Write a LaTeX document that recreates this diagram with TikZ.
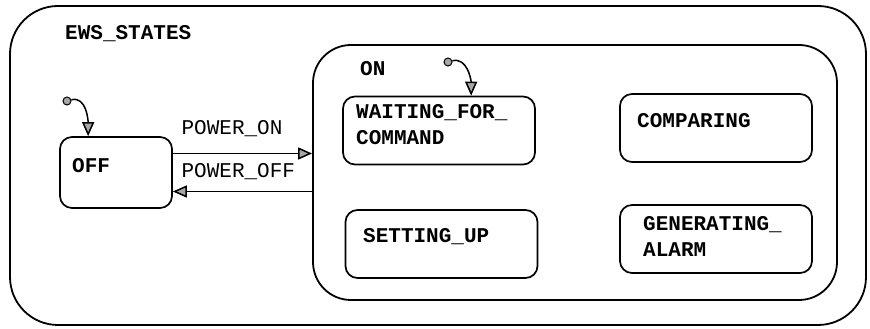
\documentclass[tikz,border=0pt]{standalone}
\usepackage{fontspec}
\newfontfamily\chartmono{Liberation Mono}
\usetikzlibrary{arrows.meta}
\tikzset{
  region/.style={draw, line width=1.8pt},
  state/.style={draw, line width=1.7pt, rounded corners=12pt, minimum width=192pt, minimum height=68pt},
  statename/.style={anchor=base west, inner sep=0pt, align=left, font=\chartmono\bfseries\fontsize{21}{26}\selectfont},
  event/.style={anchor=base west, inner sep=0pt, font=\chartmono\fontsize{21}{26}\selectfont},
  trans/.style={line width=1.5pt, -{Triangle[length=14pt,width=12pt,fill=gray!70]}},
  startdot/.style={circle, draw, line width=1pt, fill=gray!70, inner sep=0pt, minimum size=8pt},
}

\begin{document}
\begin{tikzpicture}[x=1pt,y=1pt]
\useasboundingbox (0,0) rectangle (870,329);
% outer state and the ON state
\node[region, rounded corners=48pt, minimum width=856pt, minimum height=319pt] (ews) at (438,163.5) {};
\node[statename] (ews-name) at (65,289) {EWS\_STATES};
\node[region, rounded corners=38pt, minimum width=524pt, minimum height=255pt] (on) at (575,156.5) {};
\node[statename] (on-name) at (360,253) {ON};
% states
\node[state, minimum width=112pt, minimum height=71pt] (off) at (116,156.5) {};
\node[statename] (off-name) at (72,156) {OFF};
\node[state] (wait) at (439,198.5) {};
\node[statename] (wait-name) at (356,184) {WAITING\_FOR\_\\COMMAND};
\node[state] (comp) at (716,201) {};
\node[statename] (comp-name) at (637,201) {COMPARING};
\node[state] (setup) at (441.5,85) {};
\node[statename] (setup-name) at (363,86) {SETTING\_UP};
\node[state] (alarm) at (716,90) {};
\node[statename] (alarm-name) at (643,72) {GENERATING\_\\ALARM};
% initial states
\node[startdot] (off-init) at (67,228) {};
\draw[trans] (off-init) to[out=15,in=90] ([xshift=29pt]off.north west);
\node[startdot] (on-init) at (448,267) {};
\draw[trans] (on-init) to[out=15,in=90] ([xshift=129pt]wait.north west);
% transitions
\coordinate (pon) at ([yshift=19pt]off.east);
\coordinate (poff) at ([yshift=-19pt]off.east);
\draw[trans] (pon) -- (pon -| on.west)
  node[event, pos=0, xshift=8pt, yshift=19pt] (pon-label) {POWER\_ON};
\draw[trans] (poff -| on.west) -- (poff)
  node[event, pos=1, xshift=8pt, yshift=14pt] (poff-label) {POWER\_OFF};
\end{tikzpicture}
\end{document}
